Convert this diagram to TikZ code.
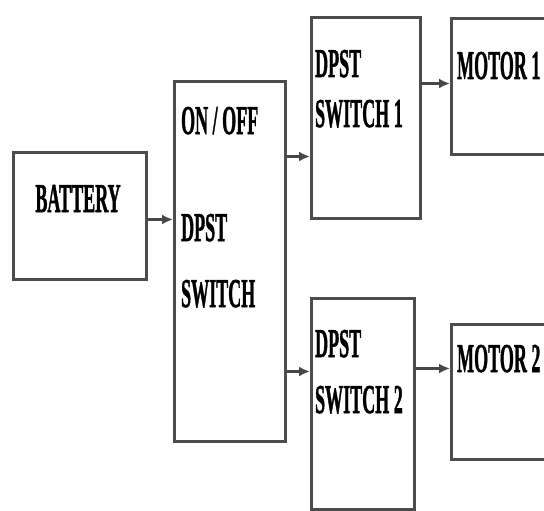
\documentclass[tikz,border=0pt]{standalone}
\usepackage{fontspec}
\setmainfont{Liberation Serif}
\newfontfamily\lblfont{Liberation Serif}[BoldFont={Liberation Serif Bold},BoldFeatures={FakeBold=1.6}]
\usetikzlibrary{arrows.meta}
\begin{document}
\begin{tikzpicture}[x=1pt,y=-1pt,
  box/.style={draw=black!70, line width=3pt, fill=white, anchor=north west, inner sep=0pt},
  lbl/.style={anchor=base west, inner sep=0pt, xscale=0.44, font=\lblfont\fontsize{41}{41}\selectfont\bfseries, text=black},
  arr/.style={draw=black!72, line width=3.4pt, -{Latex[length=11pt,width=10pt]}}]
\useasboundingbox (0,0) rectangle (544,511);
% boxes
\node[box, minimum width=133pt, minimum height=127pt] (bat) at (12,151) {};
\node[box, minimum width=111pt, minimum height=360pt] (sw) at (173,80) {};
\node[box, minimum width=109pt, minimum height=201pt] (d1) at (310,16) {};
\node[box, minimum width=100pt, minimum height=136pt] (m1) at (450,17) {};
\node[box, minimum width=103pt, minimum height=211pt] (d2) at (310,297) {};
\node[box, minimum width=100pt, minimum height=135pt] (m2) at (450,323) {};
% labels
\node[lbl, anchor=base] (tbat) at (78,212) {BATTERY};
\node[lbl] (tsw1) at (181,134) {ON / OFF};
\node[lbl] (tsw2) at (181,241) {DPST};
\node[lbl] (tsw3) at (181,307) {SWITCH};
\node[lbl] (td1a) at (315,77) {DPST};
\node[lbl] (td1b) at (315,127) {SWITCH 1};
\node[lbl] (tm1) at (457,79) {MOTOR 1};
\node[lbl] (td2a) at (315,357) {DPST};
\node[lbl] (td2b) at (315,413) {SWITCH 2};
\node[lbl] (tm2) at (457,372) {MOTOR 2};
% connectors
\draw[arr] ([yshift=-3.5pt]bat.east) coordinate (a0) -- (a0 -| sw.west);
\draw[arr] ([yshift=105pt]sw.east) coordinate (a1) -- (a1 -| d1.west);
\draw[arr] ([yshift=-110pt]sw.east) coordinate (a2) -- (a2 -| d2.west);
\draw[arr] ([yshift=34.5pt]d1.east) coordinate (a3) -- (a3 -| m1.west);
\draw[arr] ([yshift=35.5pt]d2.east) coordinate (a4) -- (a4 -| m2.west);
\end{tikzpicture}
\end{document}
